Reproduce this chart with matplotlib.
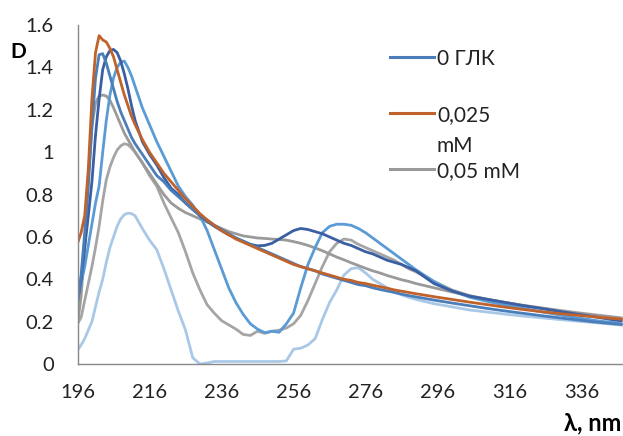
import matplotlib.pyplot as plt

plt.rcParams['font.family'] = ['Lato', 'Open Sans', 'DejaVu Sans']

# wavelength grid, nm
wl = (list(range(196, 213)) + list(range(214, 291, 2))
      + list(range(295, 346, 5)) + [347])

# 0 ГЛК
steel = [0.29, 0.42, 0.62, 0.84, 1.12, 1.35, 1.46, 1.465, 1.42, 1.36, 1.30, 1.24, 1.19, 1.15, 1.11, 1.07, 1.04,
         0.99, 0.94, 0.89, 0.86, 0.82, 0.79, 0.76, 0.73, 0.705, 0.68, 0.655, 0.635, 0.615, 0.595, 0.58, 0.565,
         0.55, 0.535, 0.52, 0.505, 0.49, 0.475, 0.46, 0.45, 0.44, 0.425, 0.415, 0.405, 0.395, 0.385, 0.375,
         0.37, 0.36, 0.352, 0.345, 0.338, 0.33, 0.323, 0.317,
         0.302, 0.288, 0.275, 0.262, 0.25, 0.239, 0.228, 0.218, 0.208, 0.198, 0.19, 0.187]

# 0,025 mM
orange = [0.57, 0.62, 0.70, 0.92, 1.25, 1.47, 1.55, 1.53, 1.52, 1.49, 1.45, 1.39, 1.33, 1.27, 1.22, 1.17, 1.13,
          1.06, 1.00, 0.95, 0.90, 0.86, 0.82, 0.78, 0.745, 0.71, 0.68, 0.655, 0.63, 0.61, 0.59, 0.575, 0.56,
          0.545, 0.53, 0.515, 0.50, 0.485, 0.47, 0.46, 0.45, 0.44, 0.43, 0.42, 0.41, 0.40, 0.395, 0.385,
          0.38, 0.372, 0.365, 0.358, 0.35, 0.344, 0.338, 0.332,
          0.318, 0.305, 0.292, 0.28, 0.268, 0.257, 0.247, 0.238, 0.23, 0.222, 0.215, 0.212]

# 0,05 mM
gray1 = [0.19, 0.32, 0.55, 0.88, 1.12, 1.23, 1.265, 1.27, 1.265, 1.245, 1.21, 1.17, 1.13, 1.09, 1.06, 1.03, 1.00,
         0.95, 0.90, 0.85, 0.80, 0.76, 0.735, 0.715, 0.70, 0.685, 0.67, 0.655, 0.64, 0.625, 0.615, 0.605, 0.60,
         0.595, 0.593, 0.59, 0.588, 0.585, 0.578, 0.57, 0.56, 0.548, 0.535, 0.52, 0.505, 0.492, 0.478, 0.465,
         0.452, 0.44, 0.43, 0.418, 0.408, 0.398, 0.39, 0.38,
         0.36, 0.34, 0.322, 0.305, 0.29, 0.277, 0.265, 0.253, 0.242, 0.232, 0.222, 0.218]

dark = [0.29, 0.40, 0.55, 0.70, 0.86, 1.08, 1.25, 1.39, 1.45, 1.48, 1.485, 1.47, 1.43, 1.37, 1.30, 1.22, 1.15,
        1.05, 0.99, 0.94, 0.88, 0.83, 0.80, 0.76, 0.73, 0.70, 0.675, 0.65, 0.63, 0.61, 0.595, 0.58, 0.565,
        0.558, 0.56, 0.57, 0.59, 0.61, 0.63, 0.64, 0.635, 0.625, 0.615, 0.60, 0.585, 0.57, 0.56, 0.545,
        0.53, 0.52, 0.505, 0.49, 0.48, 0.47, 0.455, 0.44,
        0.38, 0.345, 0.32, 0.305, 0.29, 0.275, 0.262, 0.248, 0.235, 0.222, 0.208, 0.204]

bright = [0.31, 0.38, 0.46, 0.56, 0.66, 0.76, 0.84, 1.00, 1.15, 1.27, 1.35, 1.40, 1.425, 1.43, 1.40, 1.36, 1.31,
          1.21, 1.13, 1.05, 0.98, 0.91, 0.84, 0.79, 0.75, 0.70, 0.63, 0.54, 0.45, 0.36, 0.29, 0.235, 0.19,
          0.165, 0.148, 0.155, 0.15, 0.19, 0.24, 0.36, 0.47, 0.55, 0.62, 0.65, 0.66, 0.66, 0.655, 0.64,
          0.62, 0.595, 0.57, 0.545, 0.52, 0.495, 0.47, 0.445,
          0.39, 0.345, 0.315, 0.295, 0.278, 0.262, 0.246, 0.232, 0.218, 0.205, 0.195, 0.19]

gray2 = [0.19, 0.22, 0.30, 0.38, 0.46, 0.55, 0.65, 0.77, 0.87, 0.93, 0.975, 1.01, 1.03, 1.04, 1.035, 1.02, 1.00,
         0.95, 0.89, 0.84, 0.76, 0.69, 0.62, 0.53, 0.43, 0.35, 0.28, 0.24, 0.205, 0.185, 0.165, 0.14, 0.135,
         0.155, 0.145, 0.155, 0.16, 0.17, 0.19, 0.23, 0.30, 0.38, 0.46, 0.53, 0.57, 0.59, 0.585, 0.565,
         0.55, 0.535, 0.52, 0.505, 0.49, 0.47, 0.45, 0.435,
         0.39, 0.35, 0.322, 0.305, 0.29, 0.275, 0.262, 0.25, 0.238, 0.228, 0.218, 0.215]

light = [0.066, 0.09, 0.12, 0.16, 0.20, 0.27, 0.34, 0.40, 0.48, 0.55, 0.60, 0.65, 0.685, 0.705, 0.712, 0.71, 0.70,
         0.64, 0.585, 0.54, 0.45, 0.35, 0.25, 0.16, 0.03, 0.0, 0.005, 0.012, 0.012, 0.012, 0.012, 0.012, 0.012,
         0.012, 0.012, 0.012, 0.012, 0.015, 0.07, 0.075, 0.09, 0.12, 0.21, 0.29, 0.35, 0.42, 0.45, 0.455,
         0.43, 0.40, 0.38, 0.36, 0.34, 0.327, 0.315, 0.305,
         0.285, 0.27, 0.255, 0.245, 0.235, 0.226, 0.218, 0.21, 0.202, 0.195, 0.187, 0.184]

legend_labels = ['0 ГЛК', '0,025\nmM', '0,05 mM']

fig = plt.figure(figsize=(6.23, 4.36), dpi=100)
ax = fig.add_axes([0.1244, 0.165, 0.8756, 0.7775])

lw = 2.0
ax.plot(wl, light, color='#a9c8e8', lw=lw)
ax.plot(wl, gray2, color='#a5a5a5', lw=lw)
ax.plot(wl, gray1, color='#9a9a9a', lw=lw)
ax.plot(wl, bright, color='#5b9bd5', lw=lw)
ax.plot(wl, dark, color='#3a5fa3', lw=lw)
ax.plot(wl, steel, color='#4a7ebb', lw=lw)
ax.plot(wl, orange, color='#c0622b', lw=lw)

ax.set_xlim(196, 347.5)
ax.set_ylim(0, 1.6)
ax.set_xticks(range(196, 337, 20))
ax.set_yticks([0, 0.2, 0.4, 0.6, 0.8, 1.0, 1.2, 1.4, 1.6])
ax.set_yticklabels(['0', '0.2', '0.4', '0.6', '0.8', '1', '1.2', '1.4', '1.6'])
ax.tick_params(length=0, labelsize=14.5, colors='#222222')
ax.tick_params(axis='y', pad=17)
ax.tick_params(axis='x', pad=14)
for s in ['top', 'right']:
    ax.spines[s].set_visible(False)
for s in ['left', 'bottom']:
    ax.spines[s].set_color('#888888')
    ax.spines[s].set_linewidth(1.0)

fig.text(0.03, 0.88, 'D', fontsize=15, fontweight='bold', ha='center', va='center')
fig.text(0.997, 0.004, 'λ, nm', fontsize=17, fontweight='bold', ha='right', va='bottom')

# legend drawn by hand to keep Excel spacing
leg_colors = ['#4a7ebb', '#c0622b', '#999999']
leg_y = [1 - 57 / 436, 1 - 113 / 436, 1 - 169 / 436]
for c, lab, y in zip(leg_colors, legend_labels, leg_y):
    fig.add_artist(plt.Line2D([390 / 623, 434 / 623], [y, y], color=c, lw=2.2))
    fig.text(437 / 623, y + 0.019, lab, fontsize=15, ha='left', va='top',
             linespacing=1.7, color='#222222')

fig.savefig('out.png', dpi=100)
